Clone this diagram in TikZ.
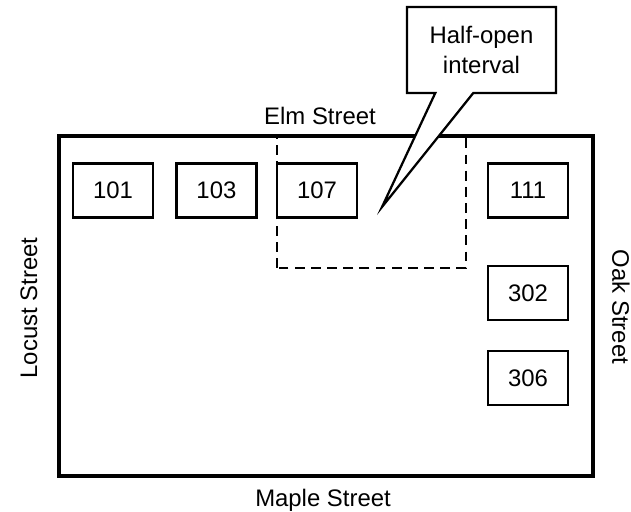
\documentclass[tikz,border=0pt]{standalone}
\usepackage{fontspec}
\setmainfont{Liberation Sans}
\usetikzlibrary{shapes.callouts}
\tikzset{house/.style={draw, line width=1.7pt, minimum width=2cm,
  minimum height=1.35cm, inner sep=0pt},
  street/.style={inner sep=0pt},
  note/.style={rectangle callout, draw, fill=white, line width=1.6pt,
  minimum width=3.725cm, minimum height=2.15cm, align=center,
  callout pointer width=0.95cm}}

\begin{document}
\begin{tikzpicture}[font=\fontsize{17}{21}\selectfont]
  \useasboundingbox (0, 0) rectangle (15.775, 12.8);
  % Block outline and streets
  \draw[line width=2.2pt] (1.475, 0.9) rectangle (14.825, 9.4);
  \node[street, anchor=base] (elm) at (8.0, 9.675) {Elm Street};
  \node[street, anchor=base] (maple) at (8.075, 0.125) {Maple Street};
  \node[street, rotate=90] (locust) at (0.725, 5.1) {Locust Street};
  \node[street, rotate=-90] (oak) at (15.525, 5.125) {Oak Street};
  % Houses
  \node[house] (h101) at (2.825, 8.04) {101};
  \node[house] (h103) at (5.41, 8.04)  {103};
  \node[house] (h107) at (7.925, 8.04) {107};
  \node[house] (h111) at (13.2, 8.04)  {111};
  \node[house] (h302) at (13.2, 5.475) {302};
  \node[house] (h306) at (13.2, 3.35)  {306};
  % Half-open interval
  \draw[dashed, dash pattern=on 7pt off 4.5pt, line width=1.6pt]
    (6.925, 6.1) rectangle (11.65, 9.4);
  \coordinate (tip) at (9.55, 7.625);
  \node[note, callout absolute pointer={(tip)}] (interval)
    at (12.0375, 11.55) {Half-open\\interval};
\end{tikzpicture}
\end{document}
